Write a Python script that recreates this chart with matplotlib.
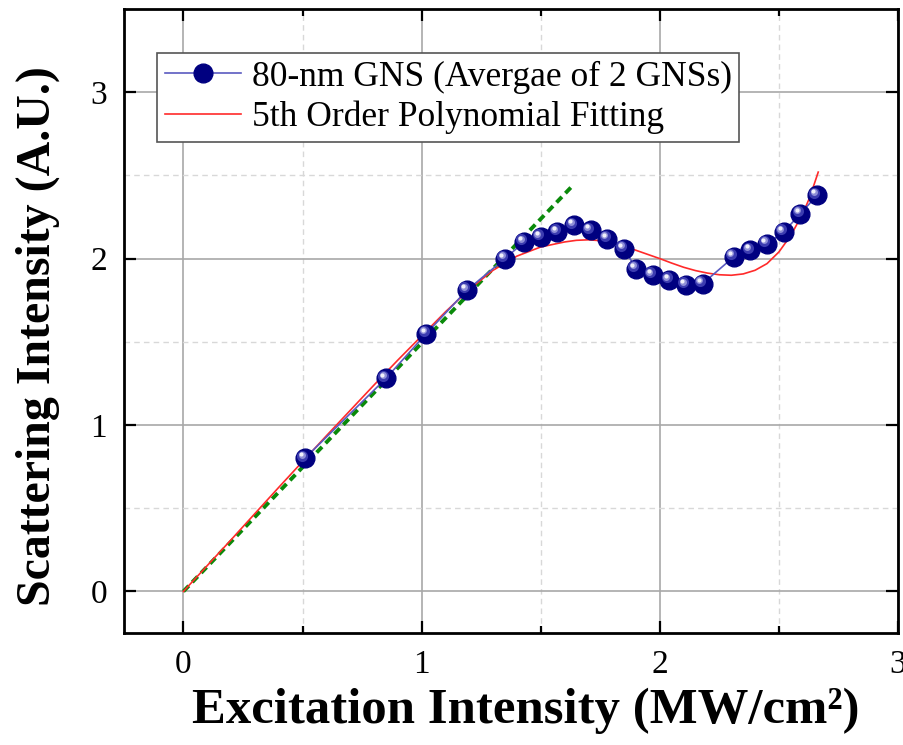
import numpy as np
import matplotlib.pyplot as plt
import matplotlib.transforms as mtransforms
from matplotlib.ticker import MultipleLocator

# measured points, 80-nm GNS (average of 2 GNSs)
excitation = [0.51, 0.85, 1.02, 1.19, 1.35, 1.43, 1.50, 1.57, 1.64, 1.71, 1.78,
              1.85, 1.90, 1.97, 2.04, 2.11, 2.18, 2.31, 2.38, 2.45, 2.52, 2.59, 2.66]
scattering = [0.80, 1.28, 1.55, 1.81, 2.00, 2.10, 2.13, 2.16, 2.20, 2.17, 2.12,
              2.06, 1.94, 1.90, 1.87, 1.84, 1.85, 2.01, 2.05, 2.09, 2.16, 2.27, 2.38]

# 5th order polynomial fit curve
fit_x = [0, 0.2, 0.4, 0.6, 0.8, 0.9, 1.0, 1.1, 1.2, 1.3, 1.4, 1.5, 1.6, 1.65, 1.7,
         1.75, 1.8, 1.85, 1.9, 1.95, 2.0, 2.05, 2.1, 2.15, 2.2, 2.25, 2.3, 2.35,
         2.4, 2.45, 2.5, 2.55, 2.6, 2.63, 2.665]
fit_y = [0, 0.31, 0.625, 0.935, 1.24, 1.39, 1.535, 1.68, 1.815, 1.93, 2.015, 2.07,
         2.10, 2.11, 2.113, 2.108, 2.095, 2.075, 2.05, 2.025, 2.0, 1.973, 1.948,
         1.928, 1.913, 1.903, 1.90, 1.908, 1.93, 1.97, 2.04, 2.14, 2.27, 2.37, 2.52]

# linear guide (green dashed)
guide_x = [0, 1.635]
guide_y = [0, 2.44]

plt.rcParams['font.family'] = ['Liberation Serif', 'DejaVu Serif']

fig = plt.figure(figsize=(9.04, 7.45), dpi=100)
ax = fig.add_axes([0.137, 0.1503, 0.8564, 0.8376])

ax.plot(guide_x, guide_y, color='#0a8a0a', lw=2.8, ls=(0, (2, 1.3)), zorder=3)
fit_line, = ax.plot(fit_x, fit_y, color='#ff2a2a', lw=1.2, zorder=4)
data_line, = ax.plot(excitation, scattering, color='#5a5ac0', lw=1.2, marker='o',
                     ms=13.5, mfc='#000080', mec='#000080', zorder=5)

# sphere highlights
hl = mtransforms.offset_copy(ax.transData, fig=fig, x=-2.0, y=2.0, units='points')
ax.plot(excitation, scattering, ls='none', marker='o', ms=8, mfc='#3c3cb0',
        mec='none', transform=hl, zorder=6)
hl1 = mtransforms.offset_copy(ax.transData, fig=fig, x=-2.4, y=2.5, units='points')
ax.plot(excitation, scattering, ls='none', marker='o', ms=5, mfc='#9090d8',
        mec='none', transform=hl1, zorder=7)
hl2 = mtransforms.offset_copy(ax.transData, fig=fig, x=-2.6, y=2.8, units='points')
ax.plot(excitation, scattering, ls='none', marker='o', ms=3, mfc='#f0f0fa',
        mec='none', transform=hl2, zorder=8)

ax.set_xlim(-0.25, 3.0)
ax.set_ylim(-0.25, 3.5)
ax.xaxis.set_major_locator(MultipleLocator(1))
ax.xaxis.set_minor_locator(MultipleLocator(0.5))
ax.yaxis.set_major_locator(MultipleLocator(1))
ax.yaxis.set_minor_locator(MultipleLocator(0.5))

ax.grid(which='major', color='#a8a8a8', lw=1.2, ls='-')
ax.grid(which='minor', color='#d8d8d8', lw=1.0, ls=(0, (4, 3)))
ax.set_axisbelow(True)

ax.tick_params(which='major', direction='in', length=8.5, width=1.6,
               top=True, right=True, labelsize=24, pad=12)
ax.tick_params(axis='x', which='minor', direction='in', length=5, width=1.6,
               top=True, bottom=True)
ax.tick_params(axis='y', which='minor', length=0)
for s in ax.spines.values():
    s.set_linewidth(2.0)

ax.set_xlabel('Excitation Intensity (MW/cm²)', fontsize=36.5, fontweight='bold')
ax.set_ylabel('Scattering Intensity (A.U.)', fontsize=34.5, fontweight='bold')
ax.xaxis.set_label_coords(0.519, -0.088)
ax.yaxis.set_label_coords(-0.082, 0.476)

leg = ax.legend([data_line, fit_line],
                ['80-nm GNS (Avergae of 2 GNSs)', '5th Order Polynomial Fitting'],
                loc='upper left', bbox_to_anchor=(0.043, 0.93), fontsize=25.5,
                frameon=True, fancybox=False, edgecolor='#555555', framealpha=1,
                handlelength=2.15, handletextpad=0.3, borderpad=0.22,
                labelspacing=0.2, numpoints=1, borderaxespad=0)
leg.get_frame().set_linewidth(1.2)

fig.savefig('out.png', dpi=100)
